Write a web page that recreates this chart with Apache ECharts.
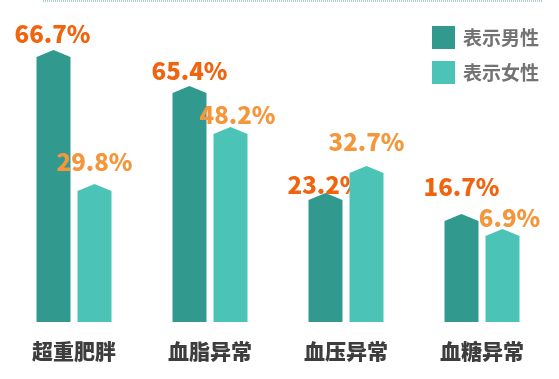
<!DOCTYPE html>
<html>
<head>
<meta charset="utf-8">
<script src="https://cdn.jsdelivr.net/npm/echarts@6/dist/echarts.min.js"></script>
<style>html,body{margin:0;padding:0;background:#fff;}#c{width:559px;height:379px;}</style>
</head>
<body>
<div id="c"></div>
<script>
// Data
const categories = ['超重肥胖', '血脂异常', '血压异常', '血糖异常'];
const seriesNames = ['表示男性', '表示女性'];
// bar heights as drawn in the picture (hidden scale 0-300)
const maleBars = [272, 236, 129, 108];
const femaleBars = [138, 195, 156, 93];
// percentages printed above bars
const maleLabels = ['66.7%', '65.4%', '23.2%', '16.7%'];
const femaleLabels = ['29.8%', '48.2%', '32.7%', '6.9%'];

// layout of label text (pixel offsets above bar tip), kept separate from data
const maleLabelGap = [8, 7, 0, 19];
const femaleLabelGap = [14, 4, 16, 3];
const maleLabelDx = [-1, 0, 0, 0];
const femaleLabelDx = [0, 7, 0, 7];

const FONT = '"Noto Sans CJK SC", "Noto Sans", sans-serif';

function makeRender(side, labels, gaps, dxs, labelColor, color) {
  return function (params, api) {
    const idx = api.value(0);
    const v = api.value(1);
    const base = api.coord([idx, 0]);
    const top = api.coord([idx, v]);
    const band = api.size([1, 0])[0];
    const w = band * 0.25;
    const cx = base[0] + side * (w / 2 + 3.5);
    const tip = 7;
    return {
      type: 'group',
      children: [
        {
          type: 'polygon',
          shape: {
            points: [
              [cx - w / 2, base[1]],
              [cx - w / 2, top[1] + tip],
              [cx, top[1]],
              [cx + w / 2, top[1] + tip],
              [cx + w / 2, base[1]]
            ]
          },
          style: { fill: color }
        },
        {
          type: 'text',
          x: cx + dxs[params.dataIndex],
          y: top[1] - gaps[params.dataIndex] + 4,
          style: {
            text: labels[params.dataIndex],
            fill: labelColor,
            font: '900 24px ' + FONT,
            align: 'center',
            verticalAlign: 'bottom'
          }
        }
      ]
    };
  };
}

const chart = echarts.init(document.getElementById('c'));
chart.setOption({
  animation: false,
  backgroundColor: '#fff',
  grid: { left: 6, right: 9, top: 22, bottom: 57 },
  legend: {
    data: seriesNames,
    orient: 'vertical',
    left: 432,
    top: 26,
    padding: 0,
    itemWidth: 23,
    itemHeight: 23,
    itemGap: 12,
    icon: 'rect',
    textStyle: { fontFamily: FONT, fontSize: 19, fontWeight: 'bold', color: '#737373', padding: [0, 0, 0, 3] }
  },
  xAxis: {
    type: 'category',
    data: categories,
    axisLine: { show: false },
    axisTick: { show: false },
    axisLabel: { fontFamily: FONT, fontSize: 21, fontWeight: 900, color: '#3d3d3d', margin: 19 }
  },
  yAxis: { type: 'value', min: 0, max: 300, show: false, splitLine: { show: false } },
  graphic: [{
    type: 'line',
    shape: { x1: 43, y1: 1, x2: 543, y2: 1 },
    style: { stroke: '#5f9fa0', lineWidth: 1, lineDash: [1, 1] }
  }],
  series: [
    {
      name: seriesNames[0],
      type: 'custom',
      itemStyle: { color: '#32998f' },
      data: maleBars.map((v, i) => [i, v]),
      renderItem: makeRender(-1, maleLabels, maleLabelGap, maleLabelDx, '#f0640f', '#32998f')
    },
    {
      name: seriesNames[1],
      type: 'custom',
      itemStyle: { color: '#4cc3b7' },
      data: femaleBars.map((v, i) => [i, v]),
      renderItem: makeRender(1, femaleLabels, femaleLabelGap, femaleLabelDx, '#f4973c', '#4cc3b7')
    }
  ]
});
</script>
</body>
</html>
